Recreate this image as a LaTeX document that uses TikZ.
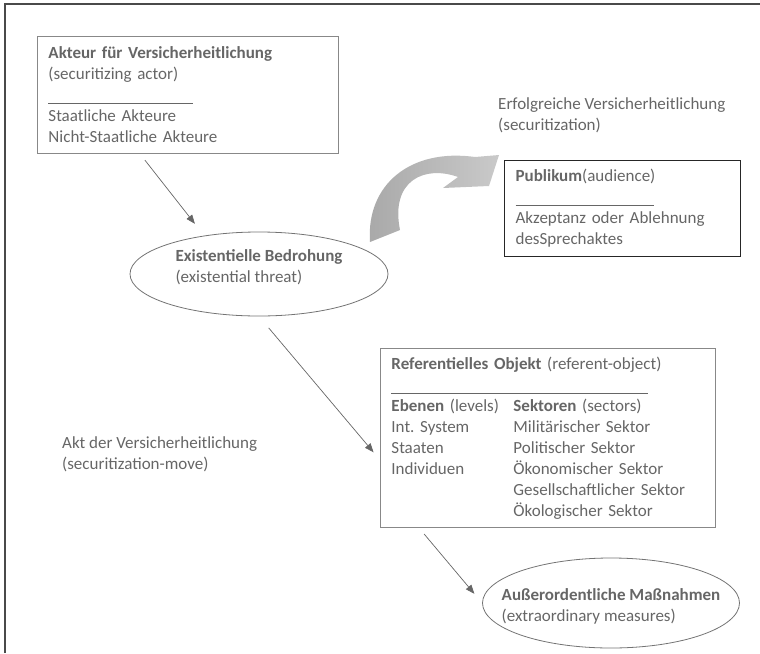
\documentclass[tikz,border=0pt]{standalone}
\usepackage{fontspec}
\setmainfont{Carlito}
\usetikzlibrary{arrows.meta,shapes.geometric,calc}
\definecolor{txtgray}{HTML}{666666}
\definecolor{linegray}{HTML}{888888}
\definecolor{framegray}{HTML}{4A4A4A}
\frenchspacing
\tikzset{
  box/.style={draw=linegray, line width=0.9pt, rectangle, anchor=north west, align=left,
    inner xsep=11pt, inner ysep=0pt, text=txtgray},
  oval/.style={draw=black!55, line width=0.8pt, ellipse, inner sep=0pt, text=txtgray},
  lbl/.style={align=left, inner sep=0pt, text=txtgray, anchor=base west},
  conn/.style={draw=black!60, line width=0.7pt, -{Triangle[length=9pt,width=7pt]}},
}
\newcommand{\sepline}[1]{\rule[-3pt]{#1}{0.7pt}}
\newcommand{\twolines}[3]{\raisebox{#1}[0pt][0pt]{\makebox[0pt]{\begin{tabular}{@{}l@{}}#2\\#3\end{tabular}}}}
\begin{document}
\begin{tikzpicture}[x=1pt,y=-1pt,every node/.style={font=\fontsize{17}{21}\selectfont}]
\useasboundingbox (0,0) rectangle (760,653);
% outer frame
\draw[framegray, line width=2pt] (5,653)--(5,4)--(760,4);

% boxes
\node[box, minimum width=301pt, minimum height=117pt, text width=279pt] (actor) at (37,36)
  {\textbf{Akteur für Versicherheitlichung}\\(securitizing actor)\\\sepline{145pt}\\Staatliche Akteure\\Nicht-Staatliche Akteure};
\node[box, draw=black!85, line width=1.2pt, minimum width=236pt, minimum height=96pt, text width=214pt] (audience) at (504,160)
  {\textbf{Publikum}(audience)\\\sepline{138pt}\\Akzeptanz oder Ablehnung\\desSprechaktes};
\node[box, minimum width=335pt, minimum height=179pt, text width=313pt] (referent) at (380,348)
  {\textbf{Referentielles Objekt} (referent-object)\\\sepline{257pt}\\
   \makebox[122pt][l]{\textbf{Ebenen} (levels)}\textbf{Sektoren} (sectors)\\
   \makebox[122pt][l]{Int. System}Militärischer Sektor\\
   \makebox[122pt][l]{Staaten}Politischer Sektor\\
   \makebox[122pt][l]{Individuen}Ökonomischer Sektor\\
   \makebox[122pt][l]{}Gesellschaftlicher Sektor\\
   \makebox[122pt][l]{}Ökologischer Sektor};

% ellipses
\node[oval, minimum width=258pt, minimum height=84pt] (threat) at (259,274)
  {\twolines{1.5pt}{\textbf{Existentielle Bedrohung}}{(existential threat)}};
\node[oval, minimum width=257pt, minimum height=90pt] (measures) at (611,603)
  {\twolines{-8.5pt}{\textbf{Außerordentliche Maßnahmen}}{(extraordinary measures)}};

% free labels
\node[lbl] (success) at (498,130) {Erfolgreiche Versicherheitlichung\\(securitization)};
\node[lbl] (move) at (62,469) {Akt der Versicherheitlichung\\(securitization-move)};

% connectors
\draw[conn, shorten <=8pt, shorten >=15pt] ([xshift=103pt]actor.south west) -- (threat.145);
\draw[conn, shorten <=15pt, shorten >=10pt] (threat.south) -- ([yshift=-22pt]referent.west);
\draw[conn, shorten <=8pt, shorten >=12pt] ([xshift=39pt]referent.south west) -- (measures.west);

% big curved arrow
\path[left color=gray!68, right color=gray!42]
  (370,242) .. controls (366,185) and (410,148) .. (475,157) -- (499,155) -- (489,186)
  -- (443,188) -- (458,177) .. controls (425,165) and (390,180) .. (400,230) -- cycle;
\end{tikzpicture}
\end{document}
